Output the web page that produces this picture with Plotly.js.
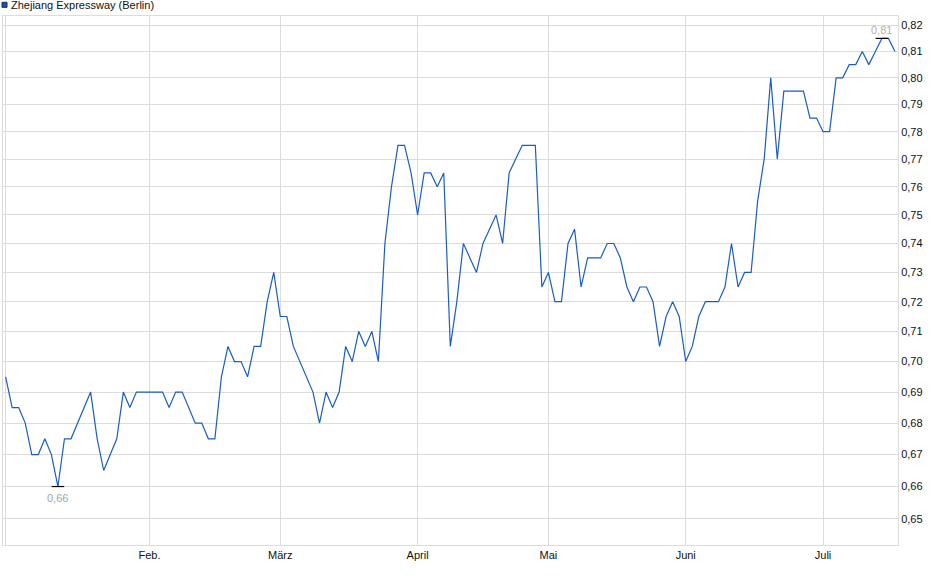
<!DOCTYPE html>
<html>
<head>
<meta charset="utf-8">
<script src="https://cdn.plot.ly/plotly-3.0.1.min.js"></script>
<style>html,body{margin:0;padding:0;background:#fff;}#chart{width:940px;height:579px;}</style>
</head>
<body>
<div id="chart"></div>
<script>
// Trading-day closing prices (EUR), Zhejiang Expressway (Berlin)
const prices = [
  0.695,0.685,0.685,0.68,0.67,0.67,0.675,0.67,0.66,0.675,
  0.675,0.68,0.685,0.69,0.675,0.665,0.67,0.675,0.69,0.685,
  0.69,0.69,0.69,0.69,0.69,0.685,0.69,0.69,0.685,0.68,
  0.68,0.675,0.675,0.695,0.705,0.70,0.70,0.695,0.705,0.705,
  0.72,0.73,0.715,0.715,0.705,0.70,0.695,0.69,0.68,0.69,
  0.685,0.69,0.705,0.70,0.71,0.705,0.71,0.70,0.74,0.76,
  0.775,0.775,0.765,0.75,0.765,0.765,0.76,0.765,0.705,0.72,
  0.74,0.735,0.73,0.74,0.745,0.75,0.74,0.765,0.77,0.775,
  0.775,0.775,0.725,0.73,0.72,0.72,0.74,0.745,0.725,0.735,
  0.735,0.735,0.74,0.74,0.735,0.725,0.72,0.725,0.725,0.72,
  0.705,0.715,0.72,0.715,0.70,0.705,0.715,0.72,0.72,0.72,
  0.725,0.74,0.725,0.73,0.73,0.755,0.77,0.80,0.77,0.795,
  0.795,0.795,0.795,0.785,0.785,0.78,0.78,0.80,0.80,0.805,
  0.805,0.81,0.805,0.81,0.815,0.815,0.81
];
const dayIndex = prices.map((_, i) => i);

// Month tick labels and the trading-day index where each month starts
const monthLabels = ['Feb.', 'März', 'April', 'Mai', 'Juni', 'Juli'];
const monthIndex = [22, 42, 63, 83, 104, 125];

const yTicks = [0.65,0.66,0.67,0.68,0.69,0.70,0.71,0.72,0.73,0.74,0.75,0.76,0.77,0.78,0.79,0.80,0.81,0.82];

const seriesName = 'Zhejiang Expressway (Berlin)';

// min / max markers
let minI = 0, maxI = 0;
prices.forEach((v, i) => { if (v < prices[minI]) minI = i; if (v > prices[maxI]) maxI = i; });
const fmt = v => (Math.floor(v * 100 + 1e-9) / 100).toFixed(2).replace('.', ',');

const lineTrace = {
  x: dayIndex, y: prices, type: 'scatter', mode: 'lines',
  line: {color: '#1a5cc8', width: 1.2},
  hoverinfo: 'skip', showlegend: false
};
const extremaTrace = {
  x: [minI, maxI], y: [prices[minI], prices[maxI]], type: 'scatter', mode: 'markers',
  marker: {symbol: 'line-ew', size: 9, line: {color: '#000', width: 1.2}},
  hoverinfo: 'skip', showlegend: false, cliponaxis: false
};

const labelFont = c => ({family: 'Liberation Sans, Arial, sans-serif', size: 11, color: c});
const grid = '#dcdcdc';
const layout = {
  width: 940, height: 579,
  margin: {l: 3, r: 42, t: 16, b: 34, pad: 0},
  paper_bgcolor: '#fff', plot_bgcolor: '#fff',
  separators: ',.',
  font: {family: 'Liberation Sans, Arial, sans-serif', size: 11, color: '#111'},
  xaxis: {
    type: 'linear',
    range: [-0.4, 136.46],
    tickvals: [0].concat(monthIndex),
    ticktext: [''].concat(monthLabels),
    showgrid: true, gridcolor: grid, gridwidth: 1,
    showline: true, linecolor: grid, linewidth: 1, mirror: true,
    ticks: '', zeroline: false,
    tickfont: {size: 11, color: '#111'}
  },
  yaxis: {
    type: 'log',
    side: 'right',
    range: [-0.19241, -0.08426],
    tickvals: yTicks,
    tickformat: '.2f',
    showgrid: true, gridcolor: grid, gridwidth: 1,
    showline: true, linecolor: grid, linewidth: 1, mirror: true,
    ticks: '', zeroline: false,
    tickfont: {size: 11, color: '#111'}
  },
  shapes: [{
    type: 'rect', xref: 'paper', yref: 'paper',
    x0: -0.0011, x1: 0.0045, y0: 1.0164, y1: 1.0259,
    fillcolor: '#1a4fb0', line: {color: '#0d2f70', width: 1}
  }],
  annotations: [{
    xref: 'paper', yref: 'paper', x: 0.0067, y: 1.0205,
    xanchor: 'left', yanchor: 'middle', showarrow: false,
    text: seriesName, font: labelFont('#111')
  }, {
    xref: 'x', yref: 'y', x: minI, y: Math.log10(prices[minI]),
    xanchor: 'center', yanchor: 'middle', yshift: -11, showarrow: false,
    text: fmt(prices[minI]), font: labelFont('#99a6b8')
  }, {
    xref: 'x', yref: 'y', x: maxI, y: Math.log10(prices[maxI]),
    xanchor: 'center', yanchor: 'middle', yshift: 8, showarrow: false,
    text: fmt(prices[maxI]), font: labelFont('#b8b0a8')
  }]
};

Plotly.newPlot('chart', [lineTrace, extremaTrace], layout, {displayModeBar: false, staticPlot: true});
</script>
</body>
</html>
